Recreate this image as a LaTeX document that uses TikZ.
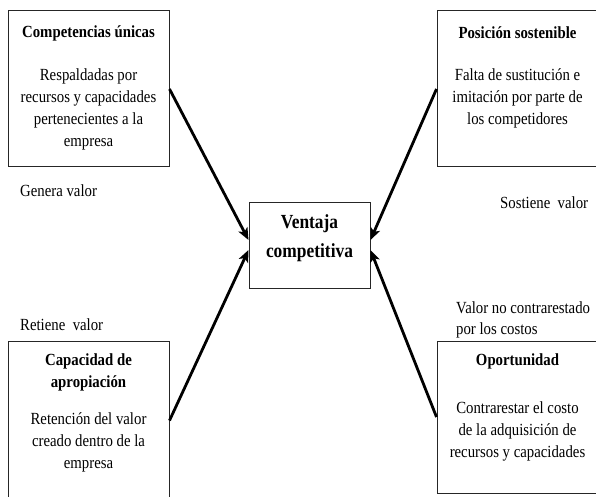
\documentclass[tikz,border=0pt]{standalone}
\usepackage{fontspec}
\setmainfont{Liberation Serif}[FakeStretch=0.87]
\usetikzlibrary{arrows.meta}
\begin{document}
\begin{tikzpicture}[x=1pt,y=1pt,
  box/.style={draw=black!85,line width=1pt,minimum width=161pt,inner sep=0pt},
  ttl/.style={font=\fontsize{17}{22}\selectfont\bfseries,align=center,inner sep=0pt},
  body/.style={font=\fontsize{17}{22}\selectfont,align=center,inner sep=0pt},
  lbl/.style={font=\fontsize{17}{22}\selectfont,inner sep=0pt,anchor=west},
  arr/.style={line width=2.8pt,-{Stealth[length=12pt,width=10pt,inset=3pt]}}]
\useasboundingbox (0,0) rectangle (596,496);
\clip (0,0) rectangle (596,496);
% boxes
\node[box,minimum height=156pt] (tl) at (88.5,407) {};
\node[box,minimum height=156pt] (tr) at (517.5,407) {};
\node[box,minimum height=159pt] (bl) at (88.5,75.5) {};
\node[box,minimum height=152pt] (br) at (517.5,79) {};
\node[box,minimum width=121pt,minimum height=86pt] (c) at (309.5,251) {};
% texts
\node[ttl] (tlt) at (88.5,463) {Competencias únicas};
\node[body,anchor=north] (tlb) at (88.5,427) {Respaldadas por\\recursos y capacidades\\pertenecientes a la\\empresa};
\node[ttl] (trt) at (517.5,463) {Posición sostenible};
\node[body,anchor=north] (trb) at (517.5,428) {Falta de sustitución e\\imitación por parte de\\los competidores};
\node[ttl,anchor=north] (blt) at (88.5,142) {Capacidad de\\apropiación};
\node[body,anchor=north] (blb) at (88.5,84) {Retención del valor\\creado dentro de la\\empresa};
\node[ttl] (brt) at (517.5,135) {Oportunidad};
\node[body,anchor=north] (brb) at (517.5,95) {Contrarestar el costo\\de la adquisición de\\recursos y capacidades};
\node[font=\fontsize{20}{29}\selectfont\bfseries,align=center,inner sep=0pt] (ct) at (309.5,258) {Ventaja\\competitiva};
% labels
\node[lbl] (l1) at (20,305) {Genera valor};
\node[lbl] (l2) at (20,171) {Retiene\ \ valor};
\node[lbl] (l3) at (500,293) {Sostiene\ \ valor};
\node[lbl] (l4) at (456,188) {Valor no contrarestado};
\node[lbl] (l5) at (456,166) {por los costos};
% arrows
\draw[arr] (tl.east) -- ([yshift=5pt]c.west);
\draw[arr] (bl.east) -- ([yshift=-5pt]c.west);
\draw[arr] (tr.west) -- ([yshift=5pt]c.east);
\draw[arr] (br.west) -- ([yshift=-5pt]c.east);
\end{tikzpicture}
\end{document}
